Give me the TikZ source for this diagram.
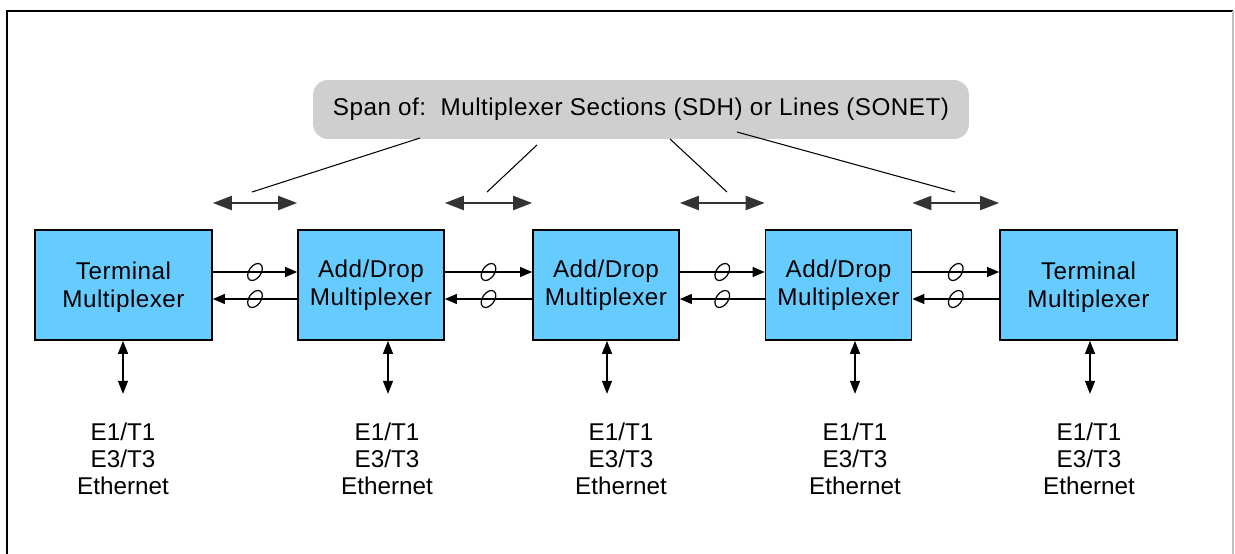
\documentclass[tikz,border=0pt]{standalone}
\usepackage{fontspec}
\setmainfont{Liberation Sans}
\newfontfamily\spacedfont[LetterSpace=2]{Liberation Sans}
\usetikzlibrary{arrows.meta,positioning,calc,shapes.geometric}

\definecolor{muxblue}{HTML}{66CCFF}
\definecolor{calloutgray}{HTML}{CFCFCF}

\tikzset{
    mux/.style={draw, line width=1pt, fill=muxblue, align=center,
        minimum height=2.2cm, font=\spacedfont\fontsize{13.8}{15.9}\selectfont},
    endmux/.style={mux, minimum width=3.54cm, text depth=-5pt},
    midmux/.style={mux, minimum width=2.92cm},
    link/.style={-{Triangle[length=0.24cm,width=0.2cm]}, line width=0.6pt},
    ring/.style={draw, ellipse, inner sep=0pt, minimum width=0.24cm,
        minimum height=0.38cm, rotate=-35, line width=0.7pt},
    spanarrow/.style={{Triangle[length=0.38cm,width=0.28cm]}-{Triangle[length=0.38cm,width=0.28cm]},
        line width=1.2pt, draw=black!80},
    tap/.style={{Triangle[length=0.26cm,width=0.2cm]}-{Triangle[length=0.26cm,width=0.2cm]},
        line width=0.6pt},
    iface/.style={align=center, font=\fontsize{13.8}{15.2}\selectfont},
    callout/.style={fill=calloutgray, rounded corners=0.3cm, minimum width=13.12cm,
        minimum height=1.18cm, font=\spacedfont\fontsize{13.8}{15.9}\selectfont}
}

\begin{document}
\begin{tikzpicture}[x=0.02cm, y=-0.02cm]
    \useasboundingbox (0,0) rectangle (1235,554);
    % frame
    \draw[line width=1.2pt] (7,554) -- (7,11) -- (1233,11);
    \draw[line width=1pt, black!25] (1233,11) -- (1233,554);

    % multiplexers
    \node[endmux] (tm1) at (123.5,285) {Terminal\\Multiplexer};
    \node[midmux] (adm1) at (371,285) {Add/Drop\\Multiplexer};
    \node[midmux] (adm2) at (606,285) {Add/Drop\\Multiplexer};
    \node[midmux] (adm3) at (838.5,285) {Add/Drop\\Multiplexer};
    \node[endmux] (tm2) at (1088.5,285) {Terminal\\Multiplexer};

    % fibre pairs and spans
    \foreach \a/\b/\n in {tm1/adm1/1, adm1/adm2/2, adm2/adm3/3, adm3/tm2/4} {
        \draw[link] ([yshift=0.26cm]\a.east) -- node[ring] {} ([yshift=0.26cm]\b.west);
        \draw[link] ([yshift=-0.28cm]\b.west) -- node[ring] {} ([yshift=-0.28cm]\a.east);
        \coordinate (gap\n l) at (\a.east |- 0,203);
        \coordinate (gap\n r) at (\b.west |- 0,203);
        \draw[spanarrow] (gap\n l) -- (gap\n r);
    }

    % tributaries
    \foreach \m/\x/\lx in {tm1/123/123, adm1/388/387, adm2/607/621, adm3/855/855, tm2/1090/1089} {
        \draw[tap] (\m.south -| \x,0) -- ++(0,53) coordinate (\m tap);
        \node[iface] (\m if) at (\lx,459) {E1/T1\\E3/T3\\Ethernet};
    }

    % callout
    \node[callout] (spanbox) at (641,109.5) {Span of:\ \ Multiplexer Sections (SDH) or Lines (SONET)};
    \coordinate (from1) at (420,138);
    \coordinate (from2) at (537,145);
    \coordinate (from3) at (670,139);
    \coordinate (from4) at (737,132);
    \coordinate (to1) at (252,192);
    \coordinate (to2) at (487,192);
    \coordinate (to3) at (727,192);
    \coordinate (to4) at (955,192);
    \foreach \n in {1,...,4}
        \draw[line width=0.6pt] (from\n) -- (to\n);
\end{tikzpicture}
\end{document}
